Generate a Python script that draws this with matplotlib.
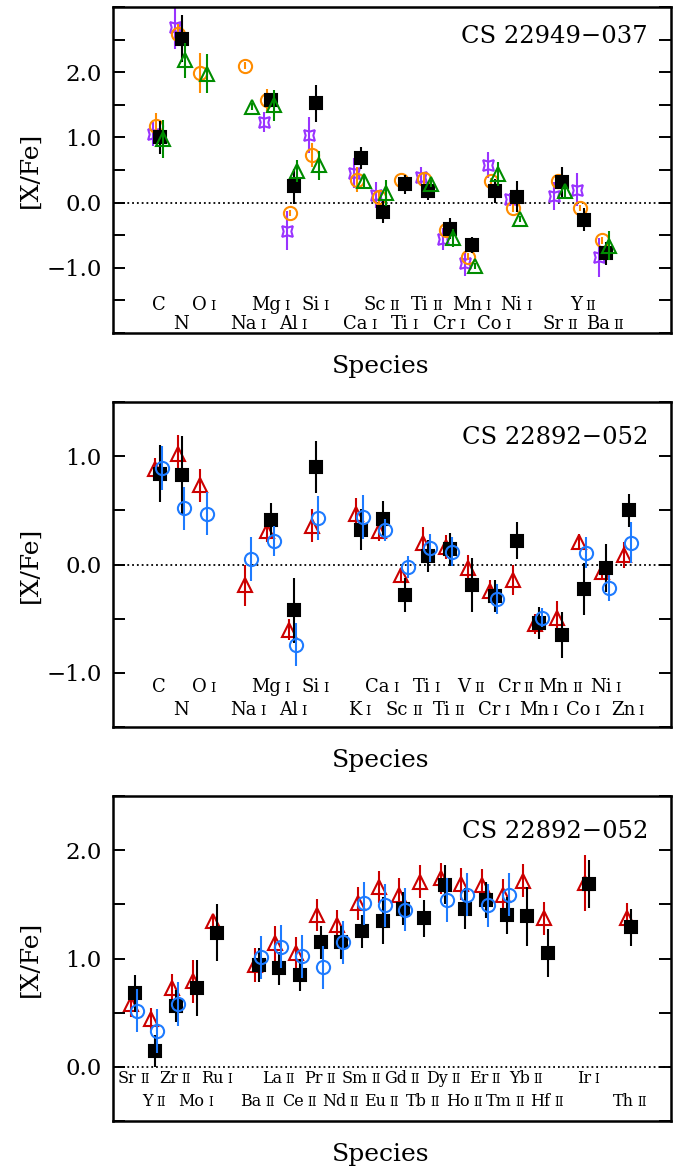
import numpy as np
import matplotlib.pyplot as plt
from matplotlib.ticker import FixedLocator, MultipleLocator, FuncFormatter
from matplotlib.offsetbox import TextArea, HPacker, AnnotationBbox

plt.rcParams['font.family'] = 'DejaVu Serif'

nan = np.nan

# ---- CS 22949-037: light elements and iron peak ----
species1 = ['C', 'N', 'O I', 'Na I', 'Mg I', 'Al I', 'Si I', 'Ca I', 'Sc II',
            'Ti I', 'Ti II', 'Cr I', 'Mn I', 'Co I', 'Ni I', 'Sr II', 'Y II', 'Ba II']
slots1 = [0, 1, 2, 4, 5, 6, 7, 9, 10, 11, 12, 13, 14, 15, 16, 18, 19, 20]

purple1 = [1.05, 2.70, nan, nan, 1.24, -0.43, 1.04, 0.45, 0.12,
           nan, 0.40, -0.56, -0.93, 0.58, 0.05, 0.10, 0.20, -0.84]
purple1_err = [0.18, 0.35, 0, 0, 0.15, 0.30, 0.28, 0.23, 0.20,
               0, 0.14, 0.17, 0.19, 0.20, 0.10, 0.22, 0.25, 0.30]
orange1 = [1.17, 2.59, 1.99, 2.10, 1.58, -0.16, 0.73, 0.35, 0.09,
           0.35, 0.36, -0.42, -0.83, 0.33, -0.08, 0.33, -0.08, -0.58]
orange1_err = [0.20, 0.15, 0.31, 0.05, 0.17, 0.05, 0.19, 0.19, 0.10,
               0.05, 0.10, 0.05, 0.05, 0.05, 0.07, 0.05, 0.05, 0.05]
black1 = [1.00, 2.51, nan, nan, 1.57, 0.25, 1.52, 0.68, -0.14,
          0.28, 0.18, -0.40, -0.65, 0.18, 0.09, 0.31, -0.26, -0.78]
black1_err = [0.25, 0.36, 0, 0, 0.10, 0.27, 0.28, 0.17, 0.17,
              0.15, 0.14, 0.16, 0.13, 0.18, 0.24, 0.24, 0.18, 0.17]
green1 = [0.97, 2.18, 1.98, 1.47, 1.49, 0.49, 0.57, 0.33, 0.15,
          nan, 0.29, -0.54, -0.97, 0.44, -0.25, 0.18, nan, -0.66]
green1_err = [0.29, 0.27, 0.30, 0.05, 0.24, 0.17, 0.22, 0.10, 0.20,
              0, 0.05, 0.14, 0.05, 0.18, 0.05, 0.10, 0, 0.22]

# ---- CS 22892-052: light elements and iron peak ----
species2 = ['C', 'N', 'O I', 'Na I', 'Mg I', 'Al I', 'Si I', 'K I', 'Ca I', 'Sc II',
            'Ti I', 'Ti II', 'V II', 'Cr I', 'Cr II', 'Mn I', 'Mn II', 'Co I', 'Ni I', 'Zn I']
slots2 = [0, 1, 2, 4, 5, 6, 7, 9, 10, 11, 12, 13, 14, 15, 16, 17, 18, 19, 20, 21]

red2 = [0.88, 1.02, 0.73, -0.19, 0.31, -0.60, 0.36, 0.47, 0.31, -0.10,
        0.20, 0.16, -0.03, -0.24, -0.14, -0.55, -0.49, 0.21, -0.07, 0.09]
red2_err = [0.10, 0.18, 0.15, 0.19, 0.10, 0.10, 0.15, 0.14, 0.09, 0.07,
            0.15, 0.11, 0.12, 0.10, 0.14, 0.09, 0.15, 0.07, 0.07, 0.12]
black2 = [0.84, 0.83, nan, nan, 0.41, -0.42, 0.90, 0.32, 0.42, -0.28,
          0.08, 0.14, -0.19, -0.29, 0.22, -0.54, -0.65, -0.23, -0.03, 0.50]
black2_err = [0.26, 0.36, 0, 0, 0.16, 0.30, 0.24, 0.19, 0.17, 0.16,
              0.15, 0.15, 0.25, 0.15, 0.17, 0.15, 0.21, 0.24, 0.22, 0.15]
blue2 = [0.89, 0.52, 0.47, 0.05, 0.22, -0.74, 0.43, 0.44, 0.32, -0.02,
         0.15, 0.12, nan, -0.32, nan, -0.49, nan, 0.11, -0.22, 0.20]
blue2_err = [0.20, 0.20, 0.20, 0.20, 0.14, 0.20, 0.20, 0.20, 0.10, 0.10,
             0.13, 0.13, 0, 0.14, 0, 0.09, 0, 0.14, 0.12, 0.19]

# ---- CS 22892-052: neutron-capture elements ----
species3 = ['Sr II', 'Y II', 'Zr II', 'Mo I', 'Ru I', 'Ba II', 'La II', 'Ce II',
            'Pr II', 'Nd II', 'Sm II', 'Eu II', 'Gd II', 'Tb II', 'Dy II', 'Ho II',
            'Er II', 'Tm II', 'Yb II', 'Hf II', 'Ir I', 'Th II']
slots3 = [0, 1, 2, 3, 4, 6, 7, 8, 9, 10, 11, 12, 13, 14, 15, 16, 17, 18, 19, 20, 22, 24]

red3 = [0.58, 0.44, 0.73, 0.79, 1.35, 0.94, 1.14, 1.05, 1.40, 1.31, 1.51,
        1.66, 1.59, 1.71, 1.74, 1.69, 1.68, 1.59, 1.72, 1.37, 1.70, 1.37]
red3_err = [0.12, 0.10, 0.13, 0.20, 0.06, 0.16, 0.16, 0.15, 0.15, 0.14, 0.15,
            0.15, 0.15, 0.15, 0.14, 0.15, 0.15, 0.14, 0.15, 0.15, 0.26, 0.14]
black3 = [0.68, 0.145, 0.56, 0.73, 1.24, 0.94, 0.91, 0.85, 1.15, 1.15, 1.25,
          1.35, 1.46, 1.37, 1.68, 1.46, 1.54, 1.40, 1.39, 1.05, 1.69, 1.29]
black3_err = [0.17, 0.15, 0.15, 0.26, 0.26, 0.16, 0.15, 0.15, 0.15, 0.15, 0.15,
              0.22, 0.15, 0.17, 0.18, 0.19, 0.17, 0.17, 0.27, 0.22, 0.22, 0.17]
blue3 = [0.52, 0.33, 0.58, nan, nan, 1.01, 1.11, 1.02, 0.92, 1.15, 1.51,
         1.49, 1.45, nan, 1.54, 1.59, 1.49, 1.59, nan, nan, nan, nan]
blue3_err = [0.2] * 22

PURPLE = '#9933ff'
ORANGE = '#ff8c00'
GREEN = '#008c00'
RED = '#cc0000'
BLUE = '#1e7bff'

star4 = (4, 1, 45)
styles = {
    'purple': dict(marker=star4, color=PURPLE, ms=11, mfc='none', off=-0.27),
    'orange': dict(marker='o', color=ORANGE, ms=9.5, mfc='none', off=-0.13),
    'black': dict(marker='s', color='black', ms=8.5, mfc='black', off=0.05),
    'green': dict(marker='^', color=GREEN, ms=10, mfc='none', off=0.18),
    'red': dict(marker='^', color=RED, ms=10, mfc='none', off=-0.15),
    'blue': dict(marker='o', color=BLUE, ms=9.5, mfc='none', off=0.15),
}


def draw_series(ax, slots, vals, errs, key):
    st = styles[key]
    x = np.array(slots, dtype=float) + st['off']
    ax.errorbar(x, vals, yerr=errs, fmt='none', ecolor=st['color'],
                elinewidth=1.5, capsize=0)
    ax.plot(x, vals, linestyle='none', marker=st['marker'], ms=st['ms'],
            mfc=st['mfc'], mec=st['color'], mew=1.5)


def species_labels(ax, slots, names, y_top, y_bot, size, ion_size):
    for i, (x, name) in enumerate(zip(slots, names)):
        parts = name.split(' ')
        boxes = [TextArea(parts[0], textprops=dict(size=size))]
        if len(parts) > 1:
            boxes.append(TextArea(parts[1], textprops=dict(size=ion_size)))
        pack = HPacker(children=boxes, align='baseline', pad=0, sep=2.5)
        y = y_top if i % 2 == 0 else y_bot
        ab = AnnotationBbox(pack, (x, y), xycoords=('data', 'axes fraction'),
                            box_alignment=(0.5, 0), frameon=False, pad=0)
        ax.add_artist(ab)


def fmt_tick(v, pos):
    if abs(v) < 1e-9:
        return '0.0'
    return ('%.1f' % v).replace('-', '\u2212')


def style_axes(ax, ylim, xlim, labelled):
    ax.set_xlim(*xlim)
    ax.set_ylim(*ylim)
    ax.axhline(0, color='black', ls=':', lw=1.3, zorder=0)
    ax.yaxis.set_major_locator(FixedLocator(labelled))
    ax.yaxis.set_minor_locator(MultipleLocator(0.5))
    ax.yaxis.set_major_formatter(FuncFormatter(fmt_tick))
    ax.tick_params(axis='y', which='both', direction='in', length=8.5, width=1.4,
                   left=True, right=True, labelsize=16.5, pad=8)
    ax.tick_params(axis='x', which='both', bottom=False, top=False,
                   labelbottom=False)
    for sp in ax.spines.values():
        sp.set_linewidth(1.8)


W, H = 683, 1168
fig = plt.figure(figsize=(W / 100, H / 100), dpi=100)

# axes boxes in pixels: (top, bottom)
boxes = [(7, 333), (402, 727), (796, 1121)]
left, right = 113, 671
axs = []
for top, bot in boxes:
    axs.append(fig.add_axes([left / W, 1 - bot / H, (right - left) / W, (bot - top) / H]))

ax1, ax2, ax3 = axs

# panel 1
style_axes(ax1, (-2, 3), (-2.05, 22.95), [-1, 0, 1, 2])
draw_series(ax1, slots1, purple1, purple1_err, 'purple')
draw_series(ax1, slots1, orange1, orange1_err, 'orange')
draw_series(ax1, slots1, black1, black1_err, 'black')
draw_series(ax1, slots1, green1, green1_err, 'green')
species_labels(ax1, slots1, species1, 0.058, 0.0, 13, 9.5)
ax1.text(0.959, 0.89, 'CS 22949\u2212037', transform=ax1.transAxes,
         ha='right', va='baseline', size=17.5)

# panel 2
style_axes(ax2, (-1.5, 1.5), (-2.05, 22.95), [-1, 0, 1])
draw_series(ax2, slots2, red2, red2_err, 'red')
draw_series(ax2, slots2, black2, black2_err, 'black')
draw_series(ax2, slots2, blue2, blue2_err, 'blue')
species_labels(ax2, slots2, species2, 0.094, 0.026, 13, 9.5)
ax2.text(0.959, 0.87, 'CS 22892\u2212052', transform=ax2.transAxes,
         ha='right', va='baseline', size=17.5)

# panel 3
style_axes(ax3, (-0.5, 2.5), (-1, 26), [0, 1, 2])
draw_series(ax3, slots3, red3, red3_err, 'red')
draw_series(ax3, slots3, black3, black3_err, 'black')
draw_series(ax3, slots3, blue3, blue3_err, 'blue')
species_labels(ax3, slots3, species3, 0.104, 0.035, 11.5, 8.5)
ax3.text(0.959, 0.87, 'CS 22892\u2212052', transform=ax3.transAxes,
         ha='right', va='baseline', size=17.5)

# shared axis titles
for (top, bot), ys in zip(boxes, [366, 761, 1155]):
    fig.text(381 / W, 1 - ys / H, 'Species', ha='center', va='center', size=18)
    fig.text(30 / W, 1 - (top + bot) / 2 / H, '[X/Fe]', ha='center', va='center',
             rotation=90, size=18)

fig.savefig('out.png', dpi=100)
